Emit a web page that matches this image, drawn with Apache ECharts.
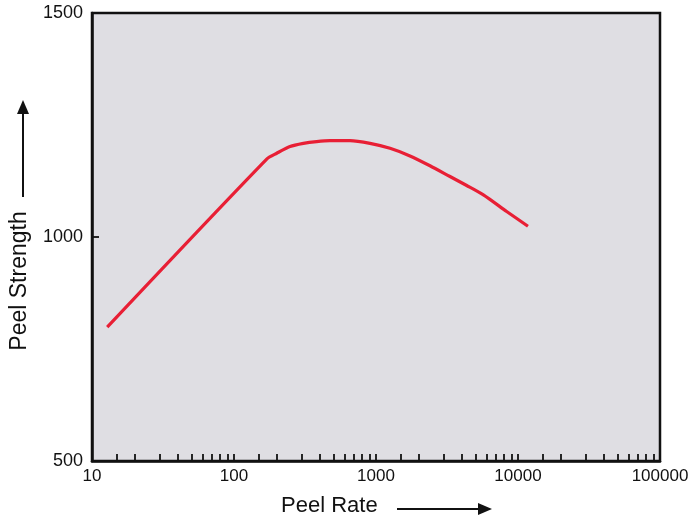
<!DOCTYPE html>
<html>
<head>
<meta charset="utf-8">
<script src="https://cdn.jsdelivr.net/npm/echarts@6/dist/echarts.min.js"></script>
<style>
  html, body { margin: 0; padding: 0; background: #ffffff; }
  #chart { width: 694px; height: 516px; }
</style>
</head>
<body>
<div id="chart"></div>
<script>
// Peel strength versus peel rate (log rate axis)
const peelRate = [12.8, 170, 200, 248, 308, 382, 474, 656, 907, 1255, 1735, 2400, 3319, 4352, 5704, 8320, 11750];
const peelStrength = [799, 1174, 1187, 1202, 1209, 1213, 1215, 1215, 1209, 1198, 1181, 1159, 1135, 1115, 1094, 1057, 1024];

const rateLabels = [10, 100, 1000, 10000, 100000];
const strengthLabels = [500, 1000, 1500];

// tick marks per decade: 1.5, 2 ... 9 and the decade itself
const decadeSteps = [1, 1.5, 2, 3, 4, 5, 6, 7, 8, 9];
const rateTicks = [];
rateLabels.slice(0, -1).forEach(function (d) {
  decadeSteps.forEach(function (s) { rateTicks.push(d * s); });
});
rateTicks.push(100000);

const FONT = '"Liberation Sans", Arial, Helvetica, sans-serif';
const INK = '#111111';

const chart = echarts.init(document.getElementById('chart'), null, { renderer: 'canvas' });

chart.setOption({
  animation: false,
  grid: {
    left: 92, right: 34, top: 13, bottom: 55,
    show: true,
    backgroundColor: '#dfdee3',
    borderColor: INK,
    borderWidth: 2.5
  },
  xAxis: {
    type: 'log',
    logBase: 10,
    min: 10,
    max: 100000,
    axisLine: { show: true, lineStyle: { color: INK, width: 2.5 } },
    axisTick: {
      show: true, inside: true, length: 7,
      lineStyle: { color: INK, width: 1.8 },
      customValues: rateTicks
    },
    axisLabel: {
      show: true, margin: 7,
      color: INK, fontSize: 17, fontFamily: FONT,
      customValues: rateLabels,
      formatter: function (v) { return String(Math.round(v)); }
    },
    splitLine: { show: false }
  },
  yAxis: {
    type: 'value',
    min: 500,
    max: 1500,
    interval: 500,
    axisLine: { show: true, lineStyle: { color: INK, width: 2.5 } },
    axisTick: { show: true, inside: true, length: 7, lineStyle: { color: INK, width: 1.8 } },
    axisLabel: {
      margin: 9, color: INK, fontSize: 18, fontFamily: FONT,
      customValues: strengthLabels,
      formatter: function (v) { return String(v); }
    },
    splitLine: { show: false }
  },
  series: [{
    type: 'line',
    data: peelRate.map(function (r, i) { return [r, peelStrength[i]]; }),
    showSymbol: false,
    smooth: 0.25,
    lineStyle: { color: '#e81f35', width: 3.2, cap: 'butt', join: 'round' }
  }],
  graphic: [
    {
      type: 'text', left: 281, top: 495,
      style: { text: 'Peel Rate', fill: INK, font: '22px ' + FONT }
    },
    {
      type: 'line',
      shape: { x1: 397, y1: 509, x2: 480, y2: 509 },
      style: { stroke: INK, lineWidth: 2 }
    },
    {
      type: 'polygon',
      shape: { points: [[478, 503], [492, 509], [478, 515]] },
      style: { fill: INK }
    },
    {
      type: 'text', x: 20, y: 281, rotation: Math.PI / 2,
      style: {
        text: 'Peel Strength', fill: INK, font: '23px ' + FONT,
        align: 'center', verticalAlign: 'middle'
      }
    },
    {
      type: 'line',
      shape: { x1: 23, y1: 197, x2: 23, y2: 112 },
      style: { stroke: INK, lineWidth: 2 }
    },
    {
      type: 'polygon',
      shape: { points: [[17, 114], [23, 100], [29, 114]] },
      style: { fill: INK }
    }
  ]
});
</script>
</body>
</html>
